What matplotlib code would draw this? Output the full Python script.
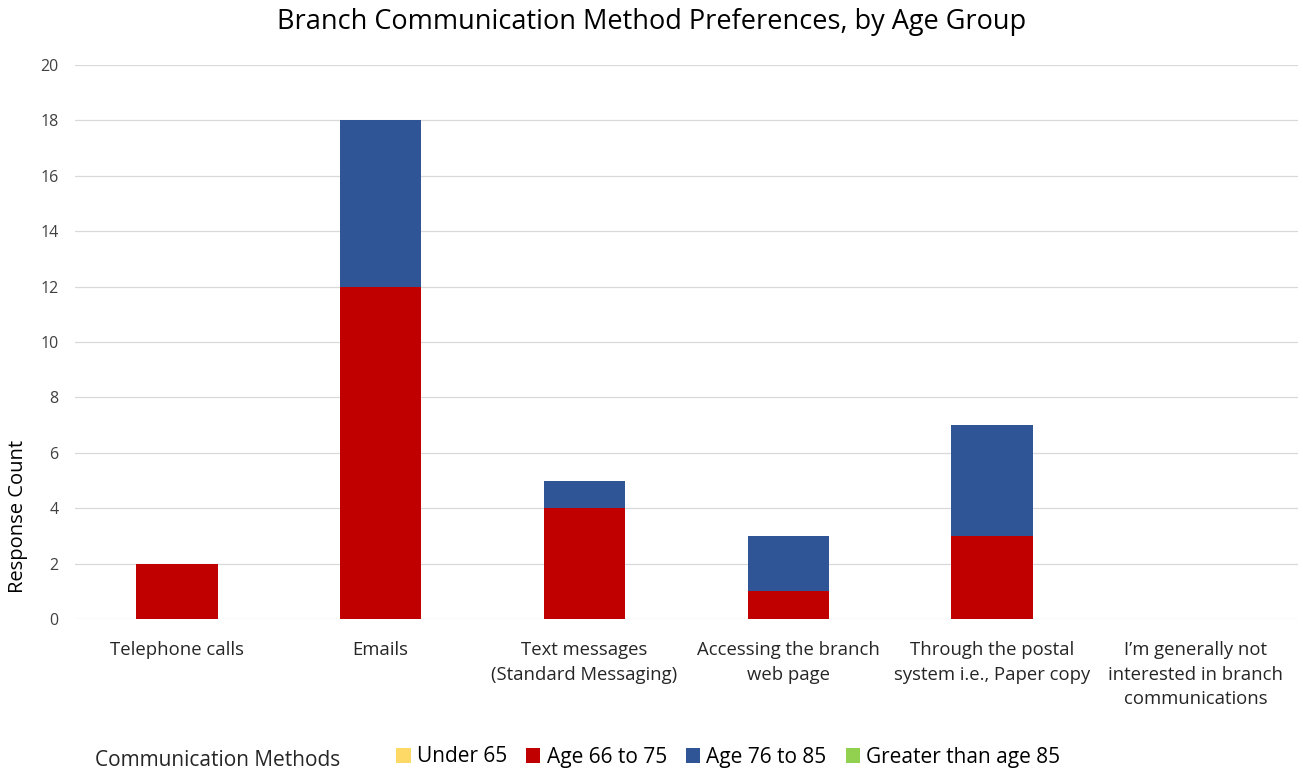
import matplotlib.pyplot as plt
import numpy as np

categories = [
    'Telephone calls',
    'Emails',
    'Text messages\n(Standard Messaging)',
    'Accessing the branch\nweb page',
    'Through the postal\nsystem i.e., Paper copy',
    'I\u2019m generally not\ninterested in branch\ncommunications',
]
under_65 = [0, 0, 0, 0, 0, 0]
age_66_75 = [2, 12, 4, 1, 3, 0]
age_76_85 = [0, 6, 1, 2, 4, 0]
over_85 = [0, 0, 0, 0, 0, 0]

series = [
    ('Under 65', under_65, '#FFD966'),
    ('Age 66 to 75', age_66_75, '#C00000'),
    ('Age 76 to 85', age_76_85, '#2F5597'),
    ('Greater than age 85', over_85, '#92D050'),
]

plt.rcParams['font.family'] = ['Open Sans', 'DejaVu Sans']

fig = plt.figure(figsize=(13.03, 7.71), dpi=100)
ax = fig.add_axes([0.0576, 0.197, 0.9384, 0.719])

x = np.arange(len(categories))
bottom = np.zeros(len(categories))
handles = []
for label, vals, color in series:
    vals = np.array(vals, dtype=float)
    b = ax.bar(x, vals, width=0.4, bottom=bottom, color=color, label=label, zorder=3)
    handles.append(b)
    bottom += vals

ax.set_xlim(-0.5, len(categories) - 0.5)
ax.set_ylim(0, 20)
ax.set_yticks(range(0, 21, 2))
ax.tick_params(axis='y', length=0, labelsize=11.5, colors='#404040', pad=12)
ax.tick_params(axis='x', length=0, labelsize=13.3, colors='#262626', pad=16)
ax.set_xticks(x)
ax.set_xticklabels(categories, linespacing=1.45)
ax.grid(axis='y', color='#D9D9D9', linewidth=0.9, zorder=0)
for s in ax.spines.values():
    s.set_visible(False)

fig.text(18 / 1303, 1 - 516 / 771, 'Response Count', fontsize=14.5, color='#000000',
         rotation=90, ha='center', va='center')
fig.text(0.5, 1 - 22 / 771, 'Branch Communication Method Preferences, by Age Group',
         fontsize=19.5, color='#000000', ha='center', va='center')

fig.text(95 / 1303, 1 - 760 / 771, 'Communication Methods', fontsize=15,
         color='#262626', va='center')
fig.legend(handles=handles, loc='center left', bbox_to_anchor=(396 / 1303, 1 - 757 / 771),
           ncol=4, frameon=False, fontsize=15, handlelength=0.7, handleheight=0.7,
           handletextpad=0.3, columnspacing=0.9, borderaxespad=0, borderpad=0)

plt.savefig('out.png', dpi=100)
